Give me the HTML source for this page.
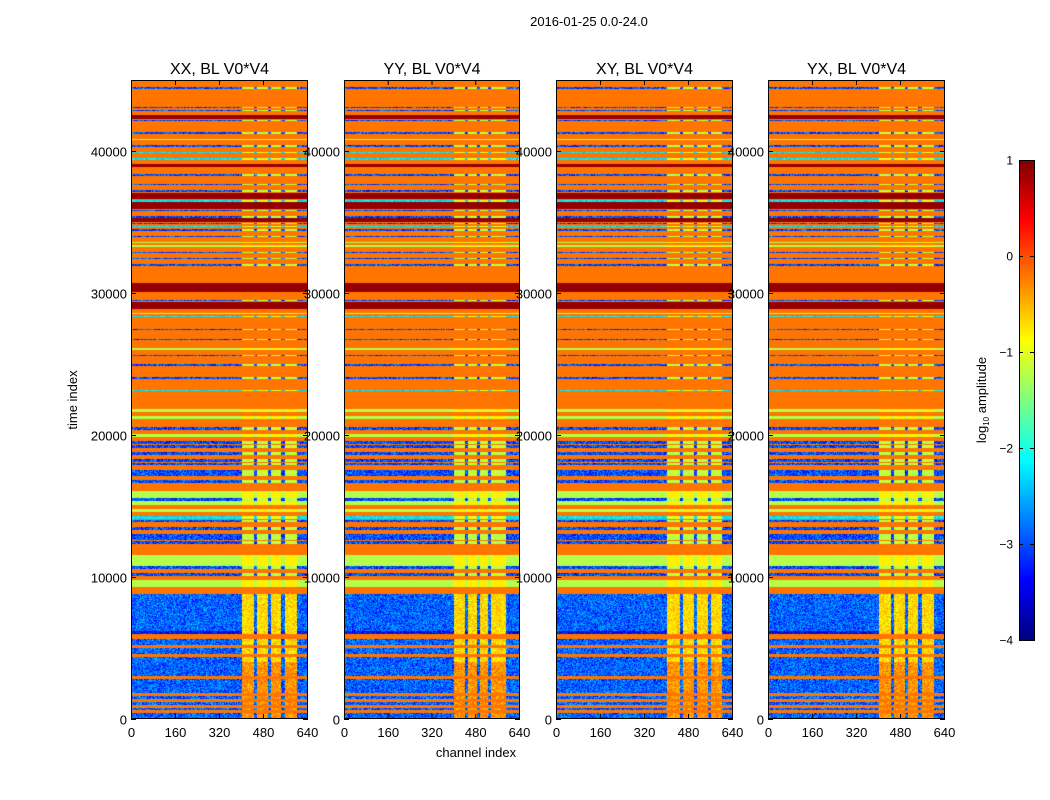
<!DOCTYPE html>
<html><head><meta charset="utf-8"><style>
body{margin:0;background:#fff;}
#root{position:relative;width:1050px;height:800px;background:#fff;overflow:hidden;font-family:"Liberation Sans",sans-serif;}
canvas{position:absolute;}
svg{position:absolute;left:0;top:0;}
</style></head><body>
<div id="root">
<canvas id="c0" style="left:131px;top:80px" width="177" height="639"></canvas>
<canvas id="c1" style="left:344px;top:80px" width="176" height="639"></canvas>
<canvas id="c2" style="left:556px;top:80px" width="177" height="639"></canvas>
<canvas id="c3" style="left:768px;top:80px" width="177" height="639"></canvas>
<canvas id="cb" style="left:1019px;top:160px" width="15" height="480"></canvas>
<svg id="ov" width="1050" height="800"></svg>
</div>
<script>
// ---- data ----
const panelTitles = ["XX, BL V0*V4","YY, BL V0*V4","XY, BL V0*V4","YX, BL V0*V4"];
const xTicks = [0,160,320,480,640];
const yTicks = [0,10000,20000,30000,40000];
const cbTicks = [1,0,-1,-2,-3,-4];
const timeMax = 45000, chanMax = 640;
// row band codes (top-down) per time segment
const segBounds = [45000, 22100, 8800, 0];
const upperA = "oobooooobborbooobogobococorooboobobrrcrrbobrbcboboggobobobooooorrroobrrogcooobooboogobooboooboooc ooo".replace(/ /g,"o");
const upperB = "ogogoobogobbobobbobbobooggbgogocbobobbbooogggbobogg o".replace(/ /g,"o");
const lower = "nnnnnnnnnnnnndllnnlnnlnnnnnnnlnnnnnlnlnlnlnn";
const codeLevel = {o:-0.2, r:0.9, g:-1.25, c:-2.25, b:-3.0, d:-3.4, n:-2.9, l:-0.2};
// fraction of each cell occupied by a line (rest is orange), per segment
const lineFracA = [0.3, 0.75];
const lineFracB = [0.1, 0.9];
// active channel band edges and gap channels per panel
const bandStart = [400,400,400,400];
const bandEnd = [600,590,600,600];
const bandGaps = [[450,500,550],[445,490,530],[455,505,555],[450,500,550]];
const activeLevel = {lowerBand:-0.7, blueRow:-1.2, cyanRow:-1.0, greenRow:-0.8};

function jet(t){t=Math.max(0,Math.min(1,t));
 const c=x=>Math.round(255*Math.max(0,Math.min(1,x)));
 return [c(1.5-Math.abs(4*t-3)),c(1.5-Math.abs(4*t-2)),c(1.5-Math.abs(4*t-1))];}
function norm(v){return (v+4)/5;}
function hash(a,b){let h=(a*374761393+b*668265263)|0;h=(h^(h>>>13))*1274126177|0;return ((h^(h>>>16))>>>0)/4294967296;}
function cellOf(s,hi,lo,t){const f=(hi-t)/((hi-lo)/s.length);const i=Math.min(s.length-1,Math.max(0,Math.floor(f)));return [s[i],f-i];}
function rowCode(t){
  let r,lf;
  if(t>=segBounds[1]){ r=cellOf(upperA,segBounds[0],segBounds[1],t); lf=lineFracA; }
  else if(t>=segBounds[2]){ r=cellOf(upperB,segBounds[1],segBounds[2],t); lf=lineFracB; if(r[0]==='g') return 'g'; }
  else return cellOf(lower,segBounds[2],segBounds[3],t)[0];
  const code=r[0],fr=r[1];
  if((code==='b'||code==='c'||code==='g')&&(fr<lf[0]||fr>lf[1])) return 'o';
  return code;
}
function value(p,t,ch,px,py){
  const code=rowCode(t);let v=codeLevel[code];
  const inBand=ch>=bandStart[p]&&ch<bandEnd[p];
  const gap=bandGaps[p].some(g=>Math.abs(ch-g)<6);
  const noise=hash(px+p*1000,py)-0.5;
  if(code==='o'||code==='r'||code==='l') return v;
  if(inBand&&!gap){
    if(code==='n'||code==='d') return activeLevel.lowerBand+noise*0.6+(t<4000?0.35:0);
    if(code==='b') return activeLevel.blueRow+noise*0.5;
    if(code==='c') return activeLevel.cyanRow+noise*0.4;
    if(code==='g') return activeLevel.greenRow;
  }
  if(code==='n'||code==='b'||code==='d') return v+noise*1.0;
  if(code==='c') return v+noise*0.5;
  return v;
}
for(let p=0;p<4;p++){
  const cv=document.getElementById('c'+p),ctx=cv.getContext('2d');
  const W=cv.width,H=cv.height,img=ctx.createImageData(W,H);
  for(let y=0;y<H;y++){const t=timeMax*(1-(y+0.5)/H);
    for(let x=0;x<W;x++){const ch=chanMax*(x+0.5)/W;
      const c=jet(norm(value(p,t,ch,x,y)));const k=(y*W+x)*4;
      img.data[k]=c[0];img.data[k+1]=c[1];img.data[k+2]=c[2];img.data[k+3]=255;}}
  ctx.putImageData(img,0,0);
}
{const cv=document.getElementById('cb'),ctx=cv.getContext('2d');
 for(let y=0;y<cv.height;y++){const c=jet(1-(y+0.5)/cv.height);ctx.fillStyle='rgb('+c.join(',')+')';ctx.fillRect(0,y,cv.width,1);}}

// ---- axes overlay ----
const svg=document.getElementById('ov');const NS="http://www.w3.org/2000/svg";
function mk(tag,attrs,txt){const e=document.createElementNS(NS,tag);for(const k in attrs)e.setAttribute(k,attrs[k]);if(txt!==undefined)e.textContent=txt;svg.appendChild(e);return e;}
const panelX=[131,344,556,768],panelW=[177,176,177,177],yTop=80,yBot=719;
const fmt=v=>v<0?"\u2212"+(-v):String(v);
for(let p=0;p<4;p++){
  const x0=panelX[p],w=panelW[p];
  const fr=mk('rect',{x:x0+0.5,y:yTop+0.5,width:w-1,height:yBot-yTop-1,fill:'none',stroke:'#000','stroke-width':1});
  
  
  const tt=mk('text',{x:x0+w/2,y:74,'text-anchor':'middle','font-size':16,fill:'#000'},panelTitles[p]);
  
  
  xTicks.forEach(v=>{const x=x0+v/chanMax*(w-1)+0.5;
    mk('line',{x1:x,x2:x,y1:yBot,y2:yBot-5,stroke:'#000'});
    mk('line',{x1:x,x2:x,y1:yTop,y2:yTop+5,stroke:'#000'});
    const l=mk('text',{x:x,y:737,'text-anchor':'middle','font-size':13,fill:'#000'},v);
    
    });
  yTicks.forEach(v=>{const y=yBot-v/timeMax*(yBot-yTop)+0.5;
    mk('line',{x1:x0,x2:x0+5,y1:y,y2:y,stroke:'#000'});
    mk('line',{x1:x0+w,x2:x0+w-5,y1:y,y2:y,stroke:'#000'});
    const l=mk('text',{x:x0-4,y:y+5,'text-anchor':'end','font-size':13,fill:'#000'},v);
    
    });
}
const st=mk('text',{x:589,y:26,'text-anchor':'middle','font-size':13,fill:'#000'},"2016-01-25 0.0-24.0");


const xl=mk('text',{x:476,y:757,'text-anchor':'middle','font-size':13,fill:'#000'},"channel index");


const yl=mk('text',{x:0,y:0,transform:'translate(77,400) rotate(-90)','text-anchor':'middle','font-size':13,fill:'#000'},"time index");


const cbf=mk('rect',{x:1019.5,y:160.5,width:15,height:480,fill:'none',stroke:'#000'});


cbTicks.forEach(v=>{const y=160+(1-v)/5*480+0.5;
  mk('line',{x1:1019,x2:1023,y1:y,y2:y,stroke:'#000'});mk('line',{x1:1034,x2:1030,y1:y,y2:y,stroke:'#000'});
  const l=mk('text',{x:1013,y:y+4,'text-anchor':'end','font-size':12,fill:'#000'},fmt(v));
  
  });
const cl=mk('text',{x:0,y:0,transform:'translate(986,400) rotate(-90)','text-anchor':'middle','font-size':13,fill:'#000'});


cl.innerHTML='log<tspan font-size="8" dy="3">10</tspan><tspan dy="-3"> amplitude</tspan>';
</script>
</body></html>
